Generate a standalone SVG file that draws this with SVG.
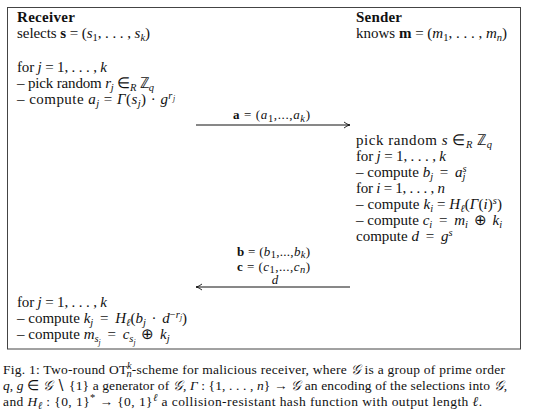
<svg xmlns="http://www.w3.org/2000/svg" width="540" height="419" viewBox="0 0 540 419" font-family="Liberation Serif, serif">
<style>
text{font-family:'Liberation Serif','Times New Roman',serif;font-size:15px;fill:#111}
.b{font-weight:bold}
.i{font-style:italic}
.s{font-size:10.5px;baseline-shift:-3px}
.p{font-size:10.5px;baseline-shift:5px}
.ss{font-size:7.5px;font-style:italic}
.c{font-size:13.5px}
.lb{font-size:13px}
.ln{stroke:#111;stroke-width:1;fill:none}
</style>
<defs>
<marker id="ah" viewBox="0 0 8 8" refX="7" refY="4" markerWidth="8" markerHeight="8" orient="auto-start-reverse" markerUnits="userSpaceOnUse">
<path d="M1,1 Q4,3.5 7,4 Q4,4.5 1,7" fill="none" stroke="#111" stroke-width="0.9"/>
</marker>
</defs>
<rect x="7.5" y="7.5" width="513" height="341.5" fill="#fff" stroke="#444" stroke-width="1"/>
<g id="receiver1">
<text x="17" y="22" class="b" textLength="58" lengthAdjust="spacing">Receiver</text>
<text x="17" y="38" textLength="133" lengthAdjust="spacing">selects <tspan class="b">s</tspan> = (<tspan class="i">s</tspan><tspan class="s">1</tspan>, . . . , <tspan class="i">s</tspan><tspan class="s i">k</tspan>)</text>
<text x="17" y="72" textLength="90" lengthAdjust="spacing">for <tspan class="i">j</tspan> = 1, . . . , <tspan class="i">k</tspan></text>
<text x="17" y="88" textLength="137" lengthAdjust="spacing">– pick random <tspan class="i">r</tspan><tspan class="s i">j</tspan> ∈<tspan class="s i">R</tspan> ℤ<tspan class="s i">q</tspan></text>
<text x="17" y="104" textLength="158" lengthAdjust="spacing">– compute <tspan class="i">a</tspan><tspan class="s i">j</tspan> = <tspan class="i">Γ</tspan>(<tspan class="i">s</tspan><tspan class="s i">j</tspan>) · <tspan class="i">g</tspan><tspan class="p i">r</tspan><tspan class="ss" style="baseline-shift:3px">j</tspan></text>
</g>
<g id="sender">
<text x="356" y="22" class="b" textLength="46" lengthAdjust="spacing">Sender</text>
<text x="356" y="38" textLength="151" lengthAdjust="spacing">knows <tspan class="b">m</tspan> = (<tspan class="i">m</tspan><tspan class="s">1</tspan>, . . . , <tspan class="i">m</tspan><tspan class="s i">n</tspan>)</text>
<text x="356" y="145" textLength="136" lengthAdjust="spacing">pick random <tspan class="i">s</tspan> ∈<tspan class="s i">R</tspan> ℤ<tspan class="s i">q</tspan></text>
<text x="356" y="161" textLength="90" lengthAdjust="spacing">for <tspan class="i">j</tspan> = 1, . . . , <tspan class="i">k</tspan></text>
<text x="356" y="177">– compute <tspan class="i">b</tspan><tspan class="s i">j</tspan><tspan dx="3"> = </tspan><tspan class="i" dx="3">a</tspan><tspan class="s i">j</tspan><tspan class="i" style="font-size:10.5px;baseline-shift:5px" dx="-3">s</tspan></text>
<text x="356" y="193" textLength="89" lengthAdjust="spacing">for <tspan class="i">i</tspan> = 1, . . . , <tspan class="i">n</tspan></text>
<text x="356" y="209" textLength="146" lengthAdjust="spacing">– compute <tspan class="i">k</tspan><tspan class="s i">i</tspan> = <tspan class="i">H</tspan><tspan class="s i">ℓ</tspan>(<tspan class="i">Γ</tspan>(<tspan class="i">i</tspan>)<tspan class="p i">s</tspan>)</text>
<text x="356" y="225">– compute <tspan class="i">c</tspan><tspan class="s i">i</tspan><tspan dx="3"> = </tspan><tspan class="i" dx="3">m</tspan><tspan class="s i">i</tspan><tspan dx="2"> ⊕ </tspan><tspan class="i" dx="2">k</tspan><tspan class="s i">i</tspan></text>
<text x="356" y="241">compute <tspan class="i">d</tspan><tspan dx="3"> = </tspan><tspan class="i" dx="3">g</tspan><tspan class="p i">s</tspan></text>
</g>
<g id="receiver2">
<text x="17" y="307" textLength="90" lengthAdjust="spacing">for <tspan class="i">j</tspan> = 1, . . . , <tspan class="i">k</tspan></text>
<text x="17" y="323">– compute <tspan class="i">k</tspan><tspan class="s i">j</tspan><tspan dx="3"> = </tspan><tspan class="i" dx="3">H</tspan><tspan class="s i">ℓ</tspan>(<tspan class="i">b</tspan><tspan class="s i">j</tspan><tspan dx="2"> · </tspan><tspan class="i" dx="2">d</tspan><tspan class="p">−</tspan><tspan class="p i">r</tspan><tspan class="ss" style="baseline-shift:3px">j</tspan>)</text>
<text x="17" y="339">– compute <tspan class="i">m</tspan><tspan class="s i">s</tspan><tspan class="ss" style="baseline-shift:-6px">j</tspan><tspan dx="3"> = </tspan><tspan class="i" dx="3">c</tspan><tspan class="s i">s</tspan><tspan class="ss" style="baseline-shift:-6px">j</tspan><tspan dx="2"> ⊕ </tspan><tspan class="i" dx="2">k</tspan><tspan class="s i">j</tspan></text>
</g>
<g id="connectors">
<text x="233" y="119" class="lb" textLength="77" lengthAdjust="spacing"><tspan class="b">a</tspan> = (<tspan class="i">a</tspan><tspan class="s">1</tspan>,...,<tspan class="i">a</tspan><tspan class="s i">k</tspan>)</text>
<line x1="196" y1="125" x2="350" y2="125" class="ln" marker-end="url(#ah)"/>
<text x="237" y="256" class="lb" textLength="73" lengthAdjust="spacing"><tspan class="b">b</tspan> = (<tspan class="i">b</tspan><tspan class="s" style="baseline-shift:-2px">1</tspan>,...,<tspan class="i">b</tspan><tspan class="s i" style="baseline-shift:-2px">k</tspan>)</text>
<text x="237" y="271" class="lb" textLength="73" lengthAdjust="spacing"><tspan class="b">c</tspan> = (<tspan class="i">c</tspan><tspan class="s" style="baseline-shift:-2px">1</tspan>,...,<tspan class="i">c</tspan><tspan class="s i" style="baseline-shift:-2px">n</tspan>)</text>
<text x="275" y="284" text-anchor="middle" class="i lb">d</text>
<line x1="196" y1="287" x2="350" y2="287" class="ln" marker-start="url(#ah)"/>
</g>
<g id="caption">
<text x="3" y="374" class="c" textLength="502" lengthAdjust="spacing">Fig. 1: Two-round OT<tspan class="s i" dx="-1">n</tspan><tspan class="p i" dx="-5">k</tspan>-scheme for malicious receiver, where <tspan class="i">𝒢</tspan> is a group of prime order</text>
<text x="3" y="390" class="c" textLength="504" lengthAdjust="spacing"><tspan class="i">q</tspan>, <tspan class="i">g</tspan> ∈ <tspan class="i">𝒢</tspan> ∖ {1} a generator of <tspan class="i">𝒢</tspan>, <tspan class="i">Γ</tspan> : {1, . . . , <tspan class="i">n</tspan>} → <tspan class="i">𝒢</tspan> an encoding of the selections into <tspan class="i">𝒢</tspan>,</text>
<text x="3" y="406" class="c" textLength="479" lengthAdjust="spacing">and <tspan class="i">H</tspan><tspan class="s i">ℓ</tspan> : {0, 1}<tspan class="p">*</tspan> → {0, 1}<tspan class="p i">ℓ</tspan> a collision-resistant hash function with output length <tspan class="i">ℓ</tspan>.</text>
</g>
</svg>
